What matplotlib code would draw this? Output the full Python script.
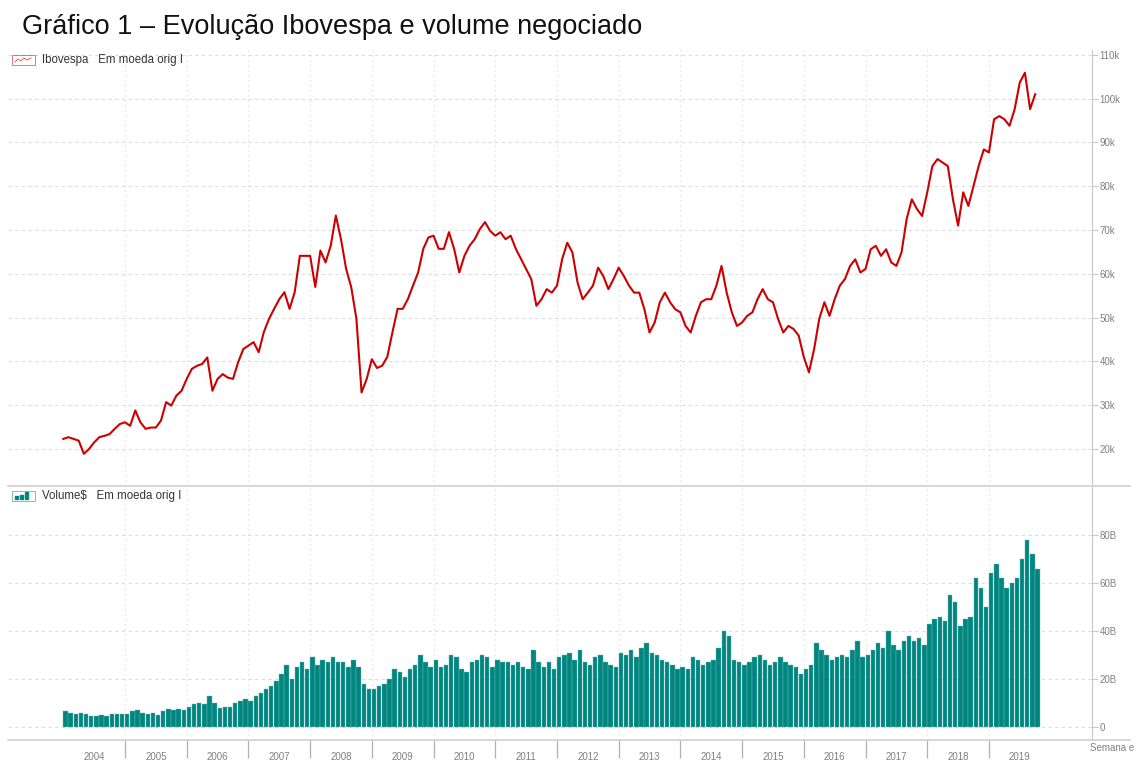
import numpy as np
import pandas as pd
import matplotlib
matplotlib.use("Agg")
import matplotlib.pyplot as plt
from matplotlib.patches import Rectangle
from matplotlib.lines import Line2D

W, H = 1136, 762

# meses de jan/2004 a out/2019
months = pd.date_range("2004-01-01", periods=190, freq="MS")

# Ibovespa (mil pontos), leitura mensal do gráfico
ibov = [
    22.3, 22.7, 22.3, 21.9, 18.9, 20.0, 21.5, 22.7, 23.0, 23.4, 24.6, 25.7,
    26.1, 25.3, 28.8, 26.1, 24.6, 24.9, 24.9, 26.5, 30.7, 29.9, 32.2, 33.3,
    36.0, 38.3, 39.0, 39.4, 40.9, 33.3, 36.0, 37.1, 36.3, 36.0, 39.8, 42.8,
    43.6, 44.4, 42.1, 46.7, 49.7, 52.0, 54.2, 55.8, 52.0, 55.8, 64.1, 64.1,
    64.1, 57.0, 65.3, 62.6, 66.4, 73.3, 67.9, 61.1, 56.9, 49.7, 32.9, 36.0,
    40.5, 38.5, 39.0, 41.0, 46.6, 52.0, 52.0, 54.2, 57.3, 60.3, 65.7, 68.3,
    68.7, 65.7, 65.7, 69.5, 65.7, 60.3, 64.1, 66.4, 67.9, 70.2, 71.8, 69.8,
    68.7, 69.5, 67.9, 68.7, 65.7, 63.4, 61.1, 58.8, 52.7, 54.2, 56.5, 55.7,
    57.3, 63.3, 67.1, 64.9, 58.0, 54.2, 55.7, 57.3, 61.4, 59.5, 56.5, 58.8,
    61.4, 59.5, 57.3, 55.7, 55.7, 51.9, 46.6, 48.9, 53.5, 55.7, 53.5, 51.9,
    51.2, 48.1, 46.6, 50.4, 53.5, 54.2, 54.2, 57.3, 61.8, 55.7, 51.2, 48.1,
    48.9, 50.4, 51.2, 54.2, 56.5, 54.2, 53.5, 49.7, 46.6, 48.1, 47.4, 45.9,
    41.0, 37.5, 42.8, 49.7, 53.5, 50.4, 54.2, 57.3, 58.8, 61.8, 63.3, 60.3,
    61.1, 65.6, 66.4, 64.1, 65.6, 62.6, 61.8, 64.9, 72.5, 77.0, 74.8, 73.2,
    78.6, 84.6, 86.2, 85.4, 84.6, 77.0, 71.0, 78.6, 75.5, 80.1, 84.6, 88.4,
    87.7, 95.3, 96.0, 95.3, 93.8, 97.6, 103.7, 105.9, 97.6, 101.0,
]

# volume negociado (bilhões)
volume = [
    6.5, 6.0, 5.5, 6.0, 5.5, 4.5, 4.5, 5.0, 4.8, 5.5, 5.5, 5.5,
    5.5, 6.5, 7.0, 6.0, 5.5, 6.0, 5.0, 6.5, 7.5, 7.0, 7.5, 7.0,
    8.5, 9.5, 10.0, 9.5, 13.0, 10.0, 8.0, 8.5, 8.5, 10.0, 11.0, 11.5,
    11, 13, 14, 16, 17, 19, 22, 26, 20, 25, 27, 24,
    29, 26, 28, 27, 29, 27, 27, 25, 28, 25, 18, 16,
    16, 17, 18, 20, 24, 23, 21, 24, 26, 30, 27, 25,
    28, 25, 26, 30, 29, 24, 23, 27, 28, 30, 29, 25,
    28, 27, 27, 26, 27, 25, 24, 32, 27, 25, 27, 24,
    29, 30, 31, 28, 32, 27, 26, 29, 30, 27, 26, 25,
    31, 30, 32, 29, 33, 35, 31, 30, 28, 27, 26, 24,
    25, 24, 29, 28, 26, 27, 28, 33, 40, 38, 28, 27,
    26, 27, 29, 30, 28, 26, 27, 29, 27, 26, 25, 22,
    24, 26, 35, 32, 30, 28, 29, 30, 29, 32, 36, 29,
    30, 32, 35, 33, 40, 34, 32, 36, 38, 36, 37, 34,
    43, 45, 46, 44, 55, 52, 42, 45, 46, 62, 58, 50,
    64, 68, 62, 58, 60, 62, 70, 78, 72, 66,
]

years = list(range(2004, 2020))
ibov_ticks = list(range(20, 111, 10))
vol_ticks = [0, 20, 40, 60, 80]

RED = "#cc0000"
TEAL = "#00857f"
GRID = "#dcdcdc"
AXIS = "#c8c8c8"
LABEL = "#808080"


def fx(px):
    return px / W


def fy(py):
    return 1 - py / H


def style_axis(ax):
    for side in ("top", "left", "bottom"):
        ax.spines[side].set_visible(False)
    ax.spines["right"].set_color(AXIS)
    ax.yaxis.tick_right()
    ax.tick_params(axis="y", length=4, width=0.8, color=AXIS, labelcolor=LABEL,
                   labelsize=7, pad=1.5)
    ax.grid(axis="y", color=GRID, linestyle=(0, (3, 3)), linewidth=0.8)
    for yr in years[1:]:
        ax.axvline(yr, color=GRID, linestyle=(0, (1, 3)), linewidth=0.9, zorder=0)
    ax.set_xlim(2003.104, 2020.67)
    ax.set_axisbelow(True)


def legend_icon(fig, y, color, kind):
    fig.add_artist(Rectangle((fx(12), fy(y + 5)), fx(23) - fx(0), 10 / H,
                             transform=fig.transFigure, fill=False,
                             edgecolor=color, linewidth=0.6, alpha=0.6))
    if kind == "line":
        xs = [fx(v) for v in (15, 18, 21, 24, 27, 31)]
        ys = [fy(y + d) for d in (2, -1, 1, -2, 0, -2)]
        fig.add_artist(Line2D(xs, ys, transform=fig.transFigure, color=color,
                              linewidth=0.6, alpha=0.7))
    else:
        for i, hgt in enumerate((3, 4, 7)):
            fig.add_artist(Rectangle((fx(15 + i * 5), fy(y + 3)), 3 / W, hgt / H,
                                     transform=fig.transFigure, color=color))


x = months.year + (months.month - 1) / 12

plt.rcParams["font.family"] = ["Liberation Sans", "DejaVu Sans"]
fig = plt.figure(figsize=(W / 100, H / 100), dpi=100)

ax1 = fig.add_axes([fx(8), fy(486), fx(1092) - fx(8), fy(50) - fy(486)])
ax2 = fig.add_axes([fx(8), fy(740), fx(1092) - fx(8), fy(486) - fy(740)])

ax1.plot(x, np.array(ibov) * 1000, color=RED, linewidth=1.5)
ax1.set_ylim(11550, 111100)
ax1.set_yticks([v * 1000 for v in ibov_ticks])
ax1.set_yticklabels([f"{v}k" for v in ibov_ticks])
style_axis(ax1)
ax1.set_xticks([])

ax2.bar(x, np.array(volume) * 1e9, width=0.86 / 12, align="edge", color=TEAL,
        edgecolor="#6fb9b5", linewidth=0.3)
ax2.set_ylim(-5.4e9, 100.4e9)
ax2.set_yticks([v * 1e9 for v in vol_ticks])
ax2.set_yticklabels(["0" if v == 0 else f"{v}B" for v in vol_ticks])
style_axis(ax2)

# separadores de ano e rótulos no eixo x
ax2.set_xticks(years[1:])
ax2.set_xticklabels([])
ax2.set_xticks([yr + 0.5 for yr in years], minor=True)
ax2.set_xticklabels([str(yr) for yr in years], minor=True)
ax2.tick_params(axis="x", which="major", length=13, width=0.9, color="#b0b0b0",
                direction="out", pad=0)
ax2.tick_params(axis="x", which="minor", length=0, labelsize=7,
                labelcolor=LABEL, pad=9)

for py in (486, 740):
    fig.add_artist(Line2D([fx(8), fx(1130)], [fy(py), fy(py)],
                          transform=fig.transFigure, color="#d0d0d0", linewidth=1.2))

fig.text(fx(22), fy(27), "Gráfico 1 – Evolução Ibovespa e volume negociado",
         fontsize=19.5, color="#111111", va="center")

legend_icon(fig, 60, RED, "line")
fig.text(fx(42), fy(60), "Ibovespa   Em moeda orig I", fontsize=8.3,
         color="#333333", va="center")
legend_icon(fig, 496, TEAL, "bar")
fig.text(fx(42), fy(496), "Volume$   Em moeda orig I", fontsize=8.3,
         color="#333333", va="center")
fig.text(fx(1090), fy(748), "Semana e", fontsize=7, color=LABEL,
         va="center")

fig.savefig("out.png", dpi=100)
